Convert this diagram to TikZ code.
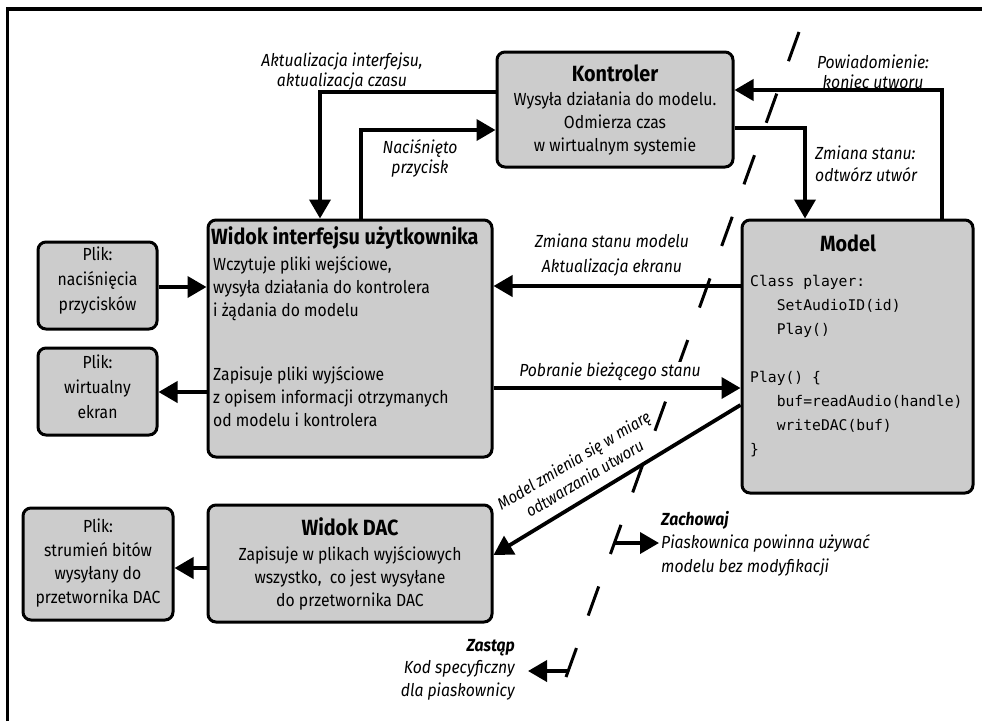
\documentclass[tikz,border=0pt]{standalone}
\usepackage{fontspec}
\setmainfont{Fira Sans}[FakeStretch=0.9]
\setmonofont{DejaVu Sans Mono}
\usetikzlibrary{arrows.meta,calc}

\definecolor{boxgray}{gray}{0.8}
\newcommand\lblfnt[1]{\itshape\fontsize{17.5}{#1}\selectfont}
\newcommand\bodyfnt[1]{\fontsize{17.5}{#1}\selectfont}

\tikzset{
  frameline/.style={line width=3.2pt},
  box/.style={draw=black, line width=3pt, fill=boxgray, rounded corners=8pt, inner sep=0pt},
  conn/.style={line width=3.8pt, -{Triangle[length=19pt,width=21pt]}},
  boundary/.style={line width=3pt, dash pattern=on 31pt off 34.5pt},
  lbl/.style={font=\lblfnt{20}, align=center, inner sep=1pt},
  ttl/.style={font=\bfseries\fontsize{22}{24}\selectfont, inner sep=0pt},
  body/.style={font=\bodyfnt{23}, inner sep=0pt},
  code/.style={font=\ttfamily\fontsize{14.7}{24}\selectfont, align=left, inner sep=0pt},
}

\begin{document}
\begin{tikzpicture}[x=1pt,y=-1pt]
\useasboundingbox (0,0) rectangle (982,721);
\fill[white] (0,0) rectangle (982,721);
\draw[frameline] (7.5,721) -- (7.5,9) -- (982,9);

% boundary: sandbox-specific code on the left, reused model on the right
\coordinate (bTop) at (799,32);
\coordinate (bBot) at (566,677);
\draw[boundary] (bTop) -- (bBot);

% boxes
\node[box, minimum width=236pt, minimum height=115pt] (ctrl)    at (615,109.5) {};
\node[box, minimum width=284pt, minimum height=237pt] (ui)      at (350,338.5) {};
\node[box, minimum width=231pt, minimum height=273pt] (model)   at (857.5,356.5) {};
\node[box, minimum width=119pt, minimum height=87pt]  (keys)    at (97.5,285.5) {};
\node[box, minimum width=119pt, minimum height=87pt]  (screen)  at (97.5,391.5) {};
\node[box, minimum width=284pt, minimum height=117pt] (dac)     at (350,563.5) {};
\node[box, minimum width=150pt, minimum height=112pt] (dacfile) at (98,564) {};

% box texts
\node[ttl] (ctrlT) at (615,73) {Kontroler};
\node[body, align=center] (ctrlB) at (615,124) {Wysyła działania do modelu.\\Odmierza czas\\w wirtualnym systemie};

\node[ttl, anchor=west] (uiT) at (211,238) {Widok interfejsu użytkownika};
\node[body, anchor=west, align=left] (uiIn) at (213,288.5) {Wczytuje pliki wejściowe,\\wysyła działania do kontrolera\\i żądania do modelu};
\node[body, anchor=west, align=left] (uiOut) at (213,396.5) {Zapisuje pliki wyjściowe\\z opisem informacji otrzymanych\\od modelu i kontrolera};

\node[ttl] (modelT) at (848,243) {Model};
\node[code, anchor=west] (modelC) at (750,366) {Class player:\\\hphantom{Cla}SetAudioID(id)\\\hphantom{Cla}Play()\\[24pt]Play() \{\\\hphantom{Cla}buf=readAudio(handle)\\\hphantom{Cla}writeDAC(buf)\\\}};

\node[body, align=center, font=\bodyfnt{25}] (keysT) at (97.5,281) {Plik:\\naciśnięcia\\przycisków};
\node[body, align=center, font=\bodyfnt{25}] (screenT) at (97.5,387) {Plik:\\wirtualny\\ekran};

\node[ttl] (dacT) at (350,527) {Widok DAC};
\node[body, align=center] (dacB) at (350,578.5) {Zapisuje w plikach wyjściowych\\wszystko,\ \ co jest wysyłane\\do przetwornika DAC};

\node[body, align=center, font=\bodyfnt{23.5}] (dacfileT) at (98,563) {Plik:\\strumień bitów\\wysyłany do\\przetwornika DAC};

% connectors
\draw[conn] (ctrl.west |- 0,92) -| (ui.north -| 320,0);
\draw[conn] (ui.north -| 361,0) |- (ctrl.west |- 0,130);
\draw[conn] (model.north -| 942,0) |- (ctrl.east |- 0,90);
\draw[conn] (ctrl.east |- 0,128) -| (model.north -| 805,0);
\draw[conn] (model.west |- 0,286) -- (ui.east |- 0,286);
\draw[conn] (ui.east |- 0,388) -- (model.west |- 0,388);
\draw[conn] (model.west |- 0,405) -- (dac.east |- 0,555);
\draw[conn] (keys.east |- 0,287) -- (ui.west |- 0,287);
\draw[conn] (ui.west |- 0,392) -- (screen.east |- 0,392);
\draw[conn] (dac.west |- 0,568) -- (dacfile.east |- 0,568);

% connector labels
\node[lbl] (lUpd) at (342,72) {Aktualizacja interfejsu,\\aktualizacja czasu};
\node[lbl] (lPress) at (420,158) {Naciśnięto\\przycisk};
\node[lbl] (lEnd) at (873,72) {Powiadomienie:\\koniec utworu};
\node[lbl, anchor=west, align=left, font=\lblfnt{22}] (lPlay) at (814,164) {Zmiana stanu:\\odtwórz utwór};
\node[lbl, font=\lblfnt{25}] (lState) at (612,255.5) {Zmiana stanu modelu\\Aktualizacja ekranu};
\node[lbl, fill=white] (lGet) at (610,372) {Pobranie bieżącego stanu};
\node[lbl, rotate=31, font=\itshape\fontsize{16.5}{21}\selectfont] (lPlayback) at (579,469) {Model zmienia się w miarę\\odtwarzania utworu};

% keep / replace legend on the boundary
\coordinate (keepS) at (614.4,543);
\node[lbl, anchor=west, align=left, inner sep=2pt, font=\lblfnt{23.5}] (keepT) at (659,543.5) {\textbf{Zachowaj}\\Piaskownica powinna używać\\modelu bez modyfikacji};
\draw[conn] (keepS) -- (keepT.west |- keepS);

\coordinate (replS) at (568.5,671);
\node[lbl, anchor=east, align=right, inner sep=2pt, font=\lblfnt{22.5}] (replT) at (517,669.5) {\textbf{Zastąp}\\Kod specyficzny\\dla piaskownicy};
\draw[conn] (replS) -- ($(replT.east |- replS)+(11,0)$);
\end{tikzpicture}
\end{document}
